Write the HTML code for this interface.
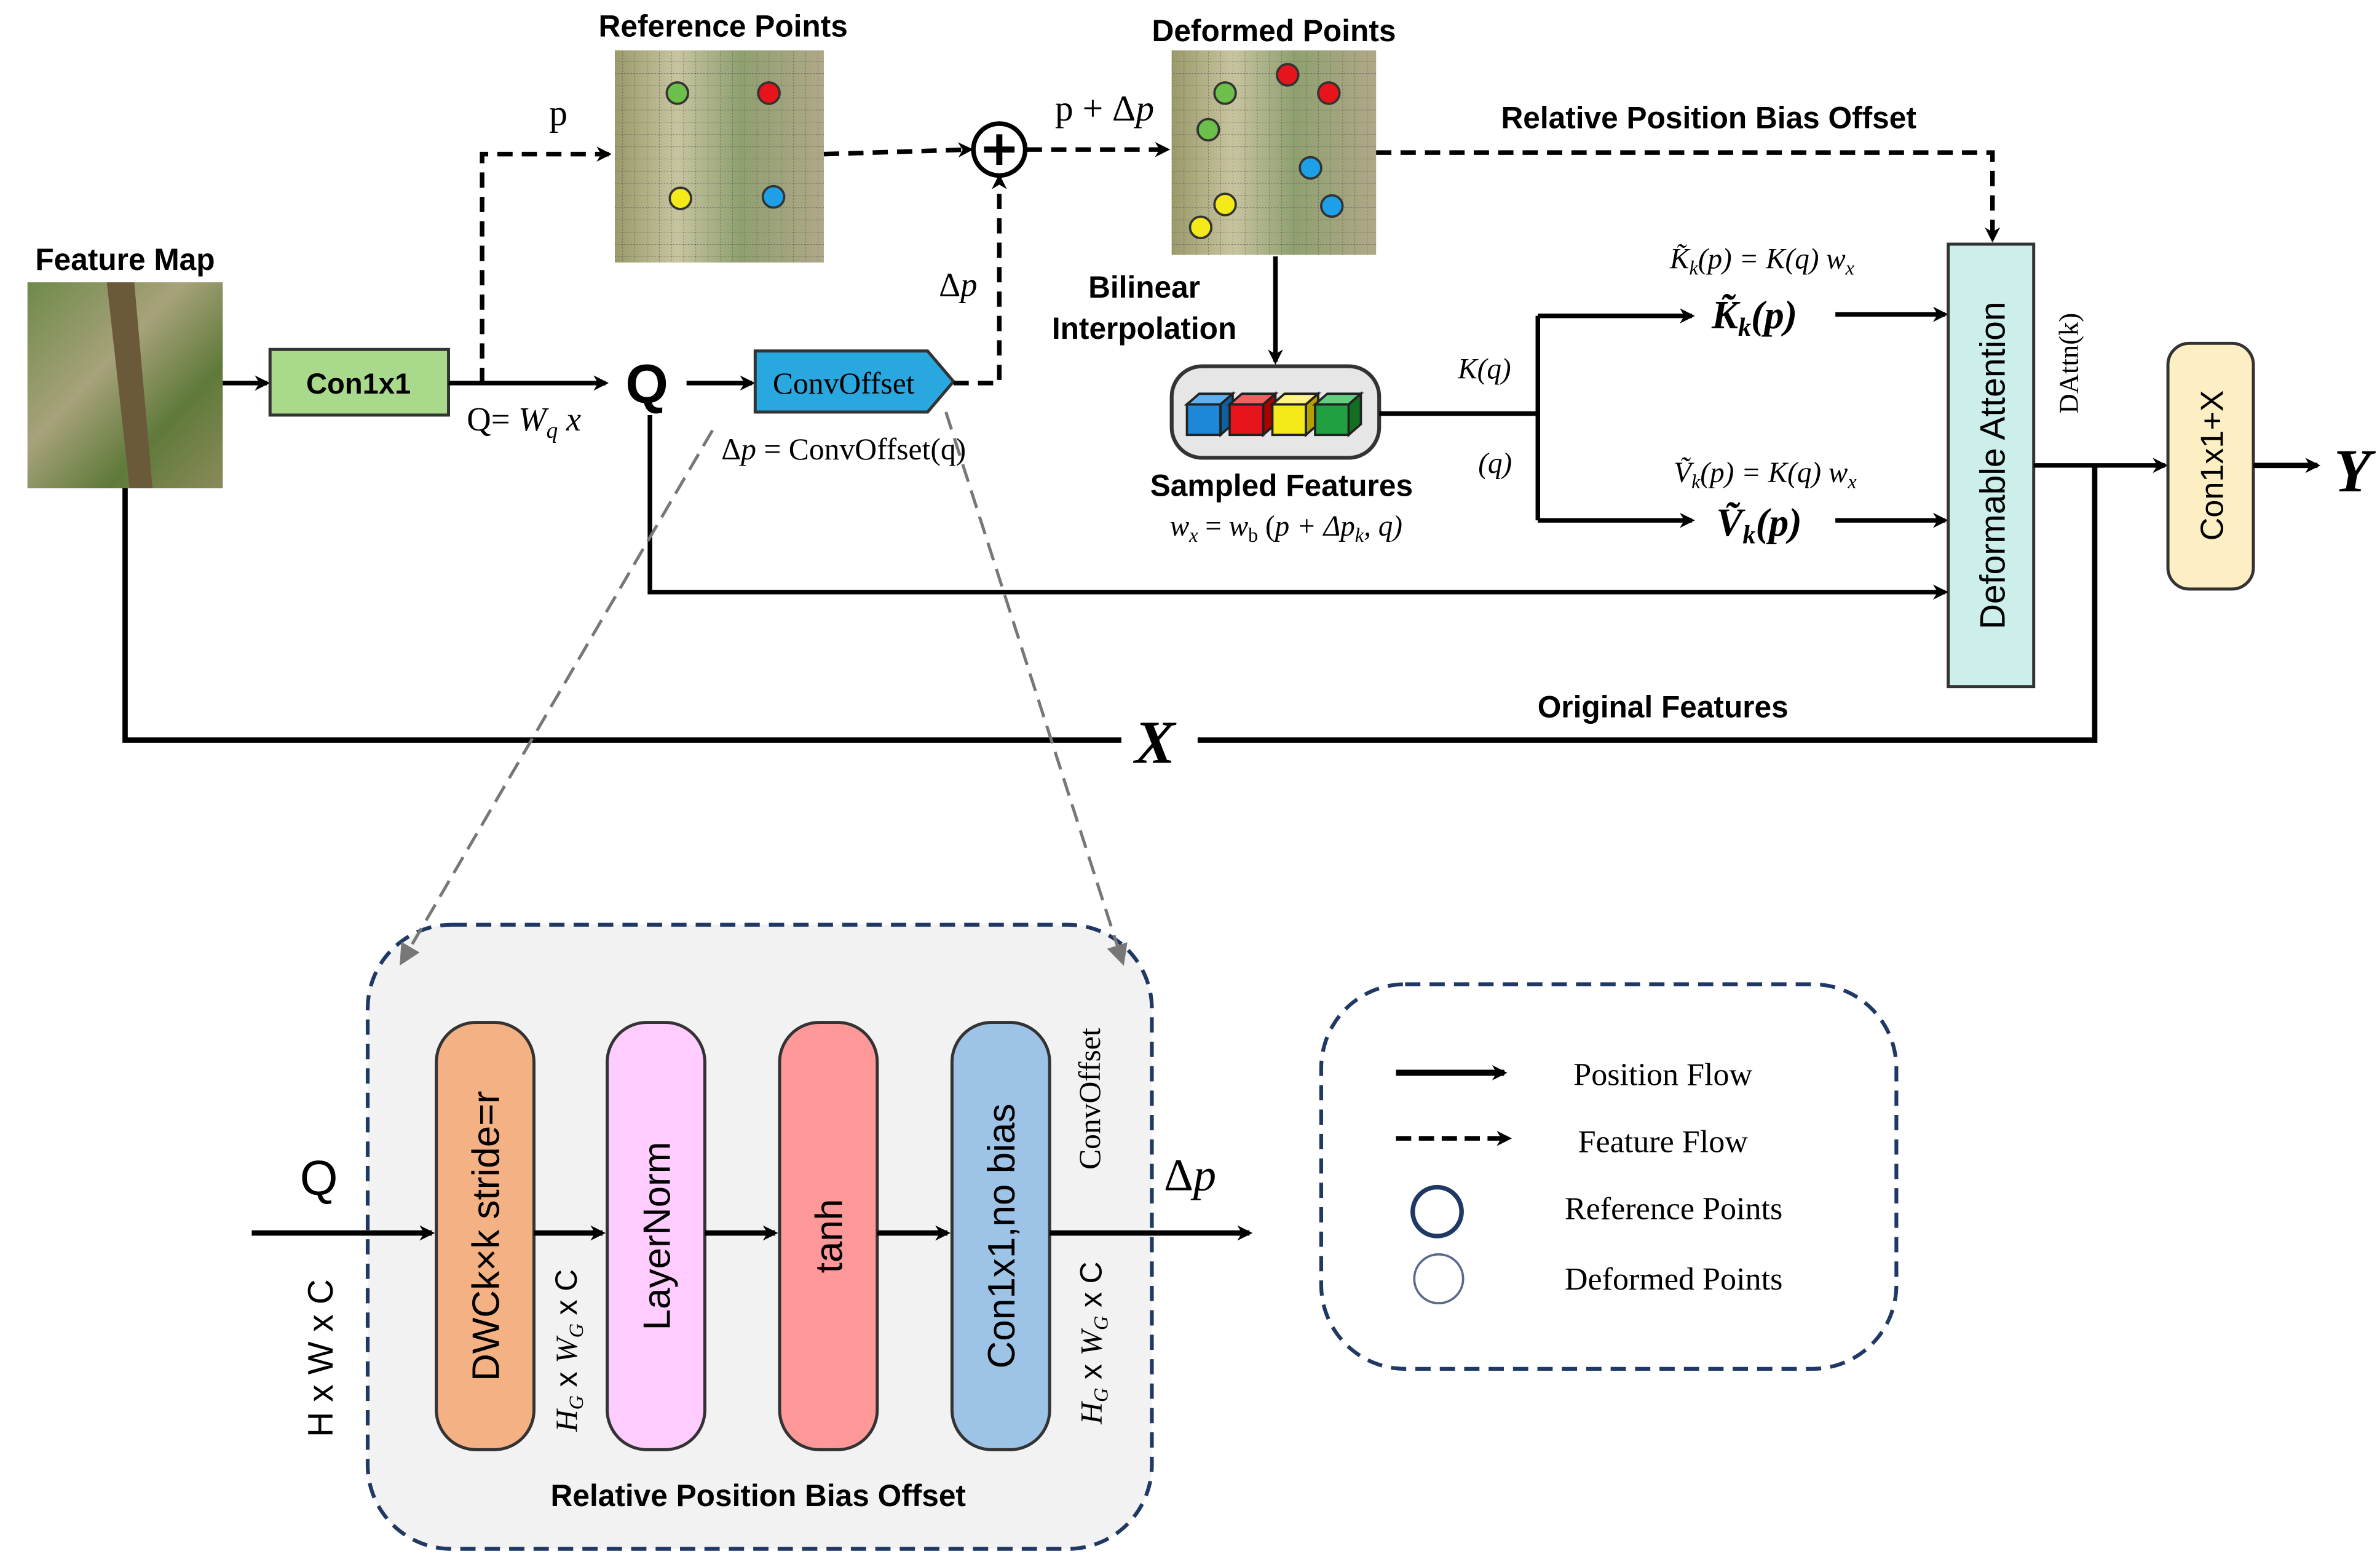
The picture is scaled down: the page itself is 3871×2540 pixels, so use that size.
<!DOCTYPE html>
<html><head><meta charset="utf-8"><style>
html,body{margin:0;padding:0;background:#fff;}
svg{display:block;}
.b{font-family:"Liberation Sans",sans-serif;font-weight:bold;}
.s{font-family:"Liberation Serif",serif;}
</style></head><body>
<svg width="3871" height="2540" viewBox="0 0 1560 1023.6" preserveAspectRatio="none" xmlns="http://www.w3.org/2000/svg">
<defs>
<marker id="ah" markerWidth="10" markerHeight="10" refX="8" refY="5" orient="auto" markerUnits="userSpaceOnUse"><path d="M0,0 L10,5 L0,10 L3,5 z" fill="#000"/></marker>
<marker id="ahg" markerWidth="14" markerHeight="14" refX="12" refY="7" orient="auto" markerUnits="userSpaceOnUse"><path d="M0,0 L14,7 L0,14 z" fill="#777"/></marker>
<linearGradient id="fm" x1="0" y1="0" x2="1" y2="1"><stop offset="0" stop-color="#6f8a4a"/><stop offset="0.4" stop-color="#a7a27a"/><stop offset="0.7" stop-color="#5f7a3a"/><stop offset="1" stop-color="#8b8a5a"/></linearGradient>
<linearGradient id="rp" x1="0" y1="0" x2="1" y2="0"><stop offset="0" stop-color="#9a9a6a"/><stop offset="0.3" stop-color="#c8c4a0"/><stop offset="0.6" stop-color="#8fa070"/><stop offset="1" stop-color="#b0a888"/></linearGradient>
<pattern id="grid" width="8" height="8" patternUnits="userSpaceOnUse"><path d="M8,0 L0,0 0,8" fill="none" stroke="#555" stroke-width="0.5" stroke-dasharray="1,1"/></pattern>
</defs>

<text x="82" y="177" class="b" font-size="20" text-anchor="middle">Feature Map</text>
<rect x="18" y="185" width="128" height="135" fill="url(#fm)"/>
<path d="M70,185 L85,320 L100,320 L88,185 z" fill="#6a5a3a"/>
<line x1="146" y1="251" x2="175" y2="251" stroke="#000" stroke-width="3" marker-end="url(#ah)"/>
<rect x="177" y="229" width="117" height="43" fill="#a9d98b" stroke="#333" stroke-width="2"/>
<text x="235" y="258" class="b" font-size="19" text-anchor="middle">Con1x1</text>
<line x1="294" y1="251" x2="397" y2="251" stroke="#000" stroke-width="3" marker-end="url(#ah)"/>
<text x="306" y="282" class="s" font-size="22">Q= <tspan font-style="italic">W</tspan><tspan font-size="15" dy="5" font-style="italic">q</tspan><tspan dy="-5" font-style="italic"> x</tspan></text>
<path d="M316,251 L316,101 L399,101" fill="none" stroke="#000" stroke-width="3" stroke-dasharray="10,6" marker-end="url(#ah)"/>
<text x="366" y="82" class="s" font-size="24" text-anchor="middle">p</text>

<text x="474" y="24" class="b" font-size="20" text-anchor="middle">Reference Points</text>
<rect x="403" y="33" width="137" height="139" fill="url(#rp)"/>
<rect x="403" y="33" width="137" height="139" fill="url(#grid)"/>
<g stroke="#333" stroke-width="1.5">
<circle cx="444" cy="61" r="7" fill="#6dbf4b"/><circle cx="504" cy="61" r="7" fill="#e8141c"/>
<circle cx="446" cy="130" r="7" fill="#f4ea1a"/><circle cx="507" cy="129" r="7" fill="#1ea0e8"/>
</g>
<path d="M540,101 L636,98" fill="none" stroke="#000" stroke-width="3" stroke-dasharray="10,6" marker-end="url(#ah)"/>
<circle cx="655" cy="98" r="17" fill="#fff" stroke="#000" stroke-width="3"/>
<path d="M645,98 L665,98 M655,88 L655,108" stroke="#000" stroke-width="4"/>
<path d="M673,98 L765,98" fill="none" stroke="#000" stroke-width="3" stroke-dasharray="10,6" marker-end="url(#ah)"/>
<text x="724" y="79" class="s" font-size="24" text-anchor="middle">p + Δ<tspan font-style="italic">p</tspan></text>

<text x="835" y="27" class="b" font-size="20" text-anchor="middle">Deformed Points</text>
<rect x="768" y="33" width="134" height="134" fill="url(#rp)"/>
<rect x="768" y="33" width="134" height="134" fill="url(#grid)"/>
<g stroke="#333" stroke-width="1.5">
<circle cx="844" cy="49" r="7" fill="#e8141c"/><circle cx="871" cy="61" r="7" fill="#e8141c"/>
<circle cx="803" cy="61" r="7" fill="#6dbf4b"/><circle cx="792" cy="85" r="7" fill="#6dbf4b"/>
<circle cx="859" cy="110" r="7" fill="#1ea0e8"/><circle cx="873" cy="135" r="7" fill="#1ea0e8"/>
<circle cx="803" cy="134" r="7" fill="#f4ea1a"/><circle cx="787" cy="149" r="7" fill="#f4ea1a"/>
</g>
<path d="M902,100 L1306,100 L1306,157" fill="none" stroke="#000" stroke-width="3" stroke-dasharray="10,6" marker-end="url(#ah)"/>
<text x="1120" y="84" class="b" font-size="20" text-anchor="middle">Relative Position Bias Offset</text>

<text x="424" y="264" class="b" font-size="36" text-anchor="middle">Q</text>
<line x1="450" y1="251" x2="493" y2="251" stroke="#000" stroke-width="3" marker-end="url(#ah)"/>
<path d="M495,230 L608,230 L625,250 L608,270 L495,270 z" fill="#29a8e0" stroke="#333" stroke-width="2"/>
<text x="553" y="258" class="s" font-size="20" text-anchor="middle">ConvOffset</text>
<path d="M625,251 L655,251 L655,116" fill="none" stroke="#000" stroke-width="3" stroke-dasharray="10,6" marker-end="url(#ah)"/>
<text x="628" y="194" class="s" font-size="22" text-anchor="middle">Δ<tspan font-style="italic">p</tspan></text>
<text x="553" y="301" class="s" font-size="20" text-anchor="middle">Δ<tspan font-style="italic">p</tspan> = ConvOffset(q)</text>

<line x1="836" y1="168" x2="836" y2="237" stroke="#000" stroke-width="3" marker-end="url(#ah)"/>
<text x="750" y="195" class="b" font-size="20" text-anchor="middle">Bilinear</text>
<text x="750" y="222" class="b" font-size="20" text-anchor="middle">Interpolation</text>
<rect x="768" y="240" width="136" height="60" rx="20" fill="#e6e6e6" stroke="#333" stroke-width="2.5"/>
<g stroke="#222" stroke-width="1.5">
<path d="M778,265 h22 v20 h-22 z" fill="#1e88d8"/><path d="M778,265 l8,-7 h22 l-8,7 z" fill="#5fb0f0"/><path d="M800,265 l8,-7 v20 l-8,7 z" fill="#1060a0"/>
<path d="M806,265 h22 v20 h-22 z" fill="#e8141c"/><path d="M806,265 l8,-7 h22 l-8,7 z" fill="#f06060"/><path d="M828,265 l8,-7 v20 l-8,7 z" fill="#a00"/>
<path d="M834,265 h22 v20 h-22 z" fill="#f4ea1a"/><path d="M834,265 l8,-7 h22 l-8,7 z" fill="#fff580"/><path d="M856,265 l8,-7 v20 l-8,7 z" fill="#b0a000"/>
<path d="M862,265 h22 v20 h-22 z" fill="#20a040"/><path d="M862,265 l8,-7 h22 l-8,7 z" fill="#60d080"/><path d="M884,265 l8,-7 v20 l-8,7 z" fill="#107020"/>
</g>
<text x="840" y="325" class="b" font-size="20" text-anchor="middle">Sampled Features</text>
<text x="843" y="351" class="s" font-size="19" text-anchor="middle" font-style="italic">w<tspan font-size="13" dy="4">x</tspan><tspan dy="-4" font-style="normal"> = </tspan>w<tspan font-size="13" dy="4" font-style="normal">b</tspan><tspan dy="-4" font-style="normal"> (</tspan>p + Δp<tspan font-size="13" dy="4">k</tspan><tspan dy="-4">, q)</tspan></text>

<path d="M904,271 L1008,271" stroke="#000" stroke-width="3"/>
<path d="M1008,207 L1008,341" stroke="#000" stroke-width="3"/>
<line x1="1008" y1="207" x2="1109" y2="207" stroke="#000" stroke-width="3" marker-end="url(#ah)"/>
<line x1="1008" y1="341" x2="1109" y2="341" stroke="#000" stroke-width="3" marker-end="url(#ah)"/>
<text x="973" y="248" class="s" font-size="19" text-anchor="middle" font-style="italic">K(q)</text>
<text x="980" y="310" class="s" font-size="19" text-anchor="middle" font-style="italic">(q)</text>
<text x="1155" y="176" class="s" font-size="19" text-anchor="middle" font-style="italic">K̃<tspan font-size="13" dy="4">k</tspan><tspan dy="-4">(p) = K(q) w</tspan><tspan font-size="13" dy="4">x</tspan></text>
<text x="1157" y="316" class="s" font-size="19" text-anchor="middle" font-style="italic">Ṽ<tspan font-size="13" dy="4">k</tspan><tspan dy="-4">(p) = K(q) w</tspan><tspan font-size="13" dy="4">x</tspan></text>
<text x="1150" y="215" class="s" font-size="26" font-weight="bold" text-anchor="middle" font-style="italic">K̃<tspan font-size="17" dy="5">k</tspan><tspan dy="-5">(p)</tspan></text>
<text x="1153" y="351" class="s" font-size="26" font-weight="bold" text-anchor="middle" font-style="italic">Ṽ<tspan font-size="17" dy="5">k</tspan><tspan dy="-5">(p)</tspan></text>
<line x1="1203" y1="206" x2="1275" y2="206" stroke="#000" stroke-width="3" marker-end="url(#ah)"/>
<line x1="1203" y1="341" x2="1275" y2="341" stroke="#000" stroke-width="3" marker-end="url(#ah)"/>

<rect x="1277" y="160" width="56" height="290" fill="#ccefec" stroke="#333" stroke-width="2"/>
<text transform="translate(1314,305) rotate(-90)" font-family="Liberation Sans,sans-serif" font-size="23" text-anchor="middle">Deformable Attention</text>
<text transform="translate(1362,238) rotate(-90)" class="s" font-size="18" text-anchor="middle">DAttn(k)</text>
<path d="M426,272 L426,388 L1275,388" fill="none" stroke="#000" stroke-width="3" marker-end="url(#ah)"/>
<line x1="1333" y1="305" x2="1419" y2="305" stroke="#000" stroke-width="3" marker-end="url(#ah)"/>
<rect x="1421" y="225" width="56" height="161" rx="14" fill="#fdeec3" stroke="#333" stroke-width="2"/>
<text transform="translate(1457,305) rotate(-90)" font-family="Liberation Sans,sans-serif" font-size="21" text-anchor="middle">Con1x1+X</text>
<line x1="1477" y1="305" x2="1519" y2="305" stroke="#000" stroke-width="3.5" marker-end="url(#ah)"/>
<text x="1542" y="322" class="s" font-size="40" font-weight="bold" font-style="italic" text-anchor="middle">Y</text>

<path d="M82,320 L82,485 L735,485 M785,485 L1373,485 L1373,305" fill="none" stroke="#000" stroke-width="3.5"/>
<text x="757" y="500" class="s" font-size="40" font-weight="bold" font-style="italic" text-anchor="middle">X</text>
<text x="1090" y="470" class="b" font-size="20" text-anchor="middle">Original Features</text>

<rect x="241" y="606" width="514" height="409" rx="55" fill="#f2f2f2" stroke="#1f3864" stroke-width="2.5" stroke-dasharray="10,6"/>
<line x1="467" y1="282" x2="263" y2="631" stroke="#777" stroke-width="2" stroke-dasharray="12,6" marker-end="url(#ahg)"/>
<line x1="620" y1="270" x2="736" y2="631" stroke="#777" stroke-width="2" stroke-dasharray="12,6" marker-end="url(#ahg)"/>
<rect x="286" y="670" width="64" height="280" rx="26" fill="#f4b183" stroke="#333" stroke-width="2"/>
<rect x="398" y="670" width="64" height="280" rx="26" fill="#ffccff" stroke="#333" stroke-width="2"/>
<rect x="511" y="670" width="64" height="280" rx="26" fill="#ff9999" stroke="#333" stroke-width="2"/>
<rect x="624" y="670" width="64" height="280" rx="26" fill="#9dc3e6" stroke="#333" stroke-width="2"/>
<g font-family="Liberation Sans,sans-serif" font-size="25" text-anchor="middle">
<text transform="translate(327,810) rotate(-90)">DWCk×k stride=r</text>
<text transform="translate(439,810) rotate(-90)">LayerNorm</text>
<text transform="translate(552,810) rotate(-90)">tanh</text>
<text transform="translate(665,810) rotate(-90)">Con1x1,no bias</text>
</g>
<line x1="165" y1="808" x2="283" y2="808" stroke="#000" stroke-width="3.5" marker-end="url(#ah)"/>
<line x1="350" y1="808" x2="395" y2="808" stroke="#000" stroke-width="3.5" marker-end="url(#ah)"/>
<line x1="462" y1="808" x2="508" y2="808" stroke="#000" stroke-width="3.5" marker-end="url(#ah)"/>
<line x1="575" y1="808" x2="621" y2="808" stroke="#000" stroke-width="3.5" marker-end="url(#ah)"/>
<line x1="688" y1="808" x2="819" y2="808" stroke="#000" stroke-width="3.5" marker-end="url(#ah)"/>
<text x="209" y="783" font-family="Liberation Sans,sans-serif" font-size="32" text-anchor="middle">Q</text>
<text transform="translate(218,890) rotate(-90)" font-family="Liberation Sans,sans-serif" font-size="23" text-anchor="middle">H x W x C</text>
<text transform="translate(378,885) rotate(-90)" font-family="Liberation Sans,sans-serif" font-size="20" text-anchor="middle"><tspan font-family="Liberation Serif,serif" font-style="italic">H<tspan font-size="13" dy="4">G</tspan></tspan><tspan dy="-4"> x </tspan><tspan font-family="Liberation Serif,serif" font-style="italic">W<tspan font-size="13" dy="4">G</tspan></tspan><tspan dy="-4"> x C</tspan></text>
<text transform="translate(722,880) rotate(-90)" font-family="Liberation Sans,sans-serif" font-size="20" text-anchor="middle"><tspan font-family="Liberation Serif,serif" font-style="italic">H<tspan font-size="13" dy="4">G</tspan></tspan><tspan dy="-4"> x </tspan><tspan font-family="Liberation Serif,serif" font-style="italic">W<tspan font-size="13" dy="4">G</tspan></tspan><tspan dy="-4"> x C</tspan></text>
<text transform="translate(721,720) rotate(-90)" class="s" font-size="20" text-anchor="middle">ConvOffset</text>
<text x="780" y="780" class="s" font-size="30" text-anchor="middle">Δ<tspan font-style="italic">p</tspan></text>
<text x="497" y="987" class="b" font-size="20" text-anchor="middle">Relative Position Bias Offset</text>

<rect x="866" y="645" width="377" height="252" rx="55" fill="#fff" stroke="#1f3864" stroke-width="2.5" stroke-dasharray="10,6"/>
<line x1="915" y1="703" x2="986" y2="703" stroke="#000" stroke-width="4" marker-end="url(#ah)"/>
<line x1="915" y1="746" x2="989" y2="746" stroke="#000" stroke-width="3" stroke-dasharray="10,5" marker-end="url(#ah)"/>
<circle cx="942" cy="794" r="16" fill="#fff" stroke="#1f3864" stroke-width="3"/>
<circle cx="943" cy="838" r="16" fill="#fff" stroke="#5a6a8a" stroke-width="1.5"/>
<g class="s" font-size="21" text-anchor="middle">
<text x="1090" y="711">Position Flow</text>
<text x="1090" y="755">Feature Flow</text>
<text x="1097" y="799">Reference Points</text>
<text x="1097" y="845">Deformed Points</text>
</g>
</svg>
</body></html>
